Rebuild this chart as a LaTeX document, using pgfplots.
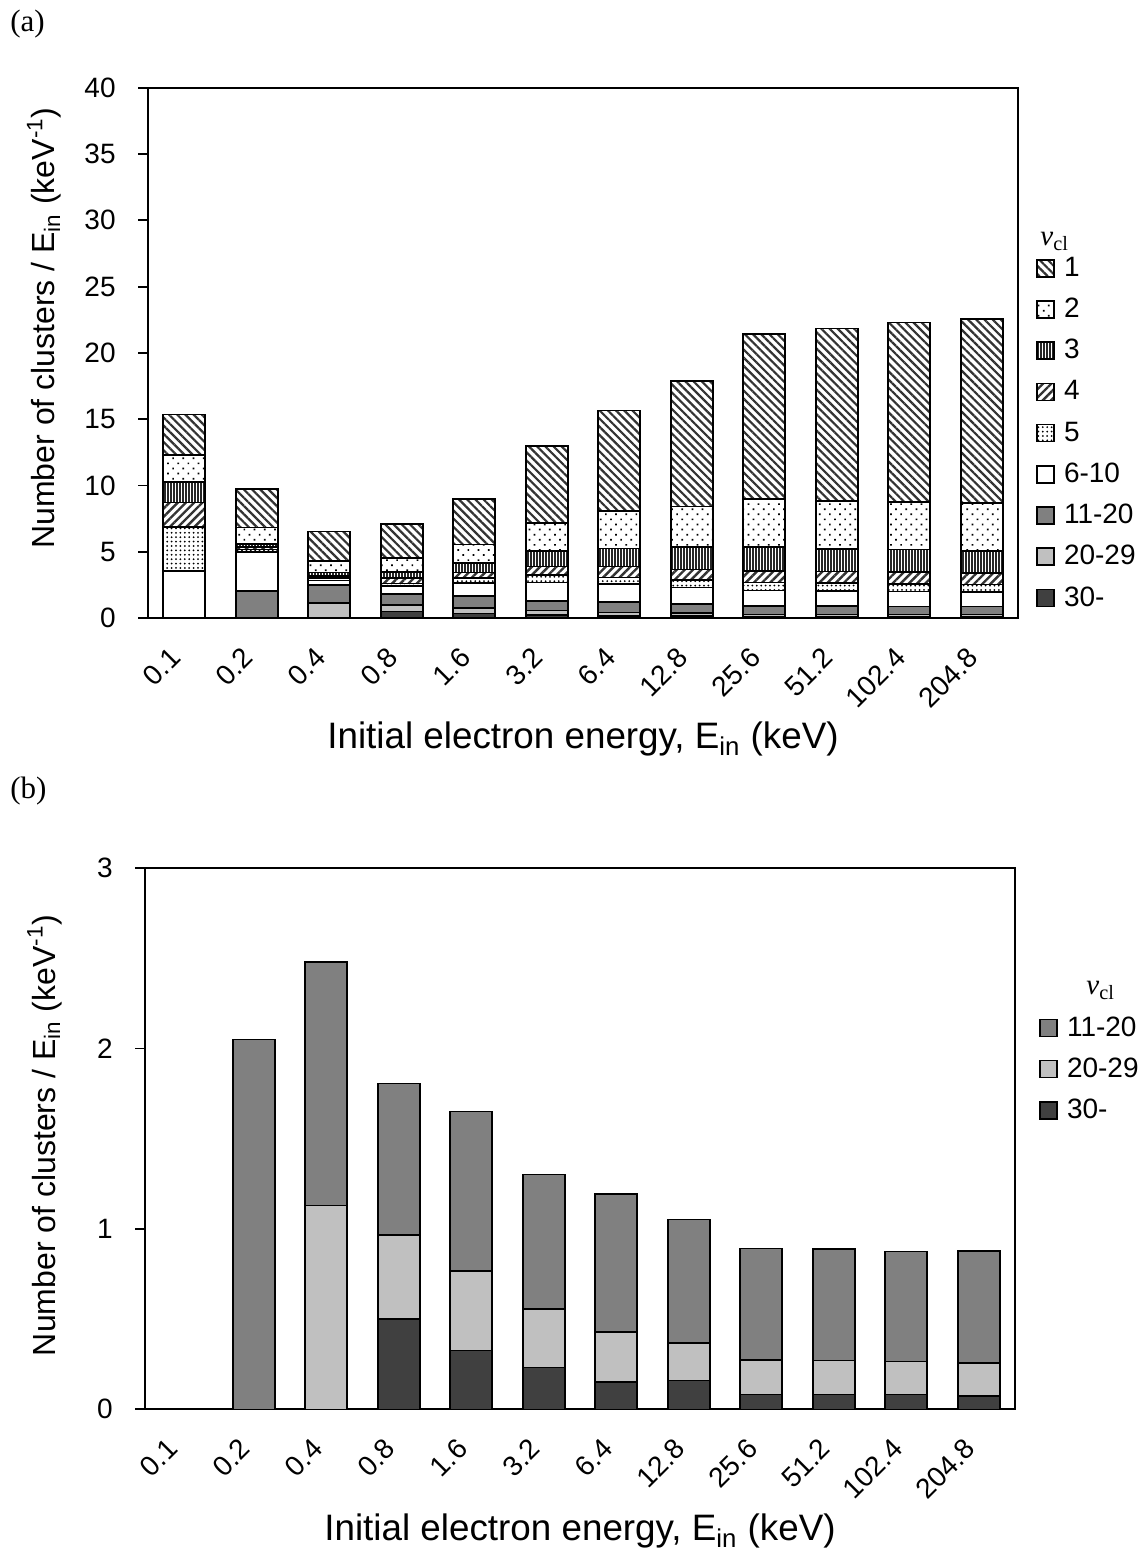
\documentclass[border=0pt]{standalone}
\usepackage{fontspec}
\setmainfont{Liberation Sans}
\newfontfamily\serif{Liberation Serif}
\usepackage{pgfplots}
\usepackage{pgfplotstable}
\pgfplotsset{compat=1.18}
\usetikzlibrary{patterns.meta,calc}

\definecolor{g11}{HTML}{808080}
\definecolor{g20}{HTML}{C0C0C0}
\definecolor{g30}{HTML}{404040}

\newcommand\ticksize{\fontsize{14}{16}\selectfont}

% clusters per keV, split by cluster size (stacked bottom to top: 30-, 20-29, 11-20, 6-10, 5, 4, 3, 2, 1)
\pgfplotstableread{
x  c30   c20   c11   c6   c5   c4   c3   c2   c1
0  0     0     0     3.55 3.32 1.83 1.54 2.04 3.07
1  0     0     2.05  2.91 0.20 0.20 0.22 1.24 2.89
2  0     1.13  1.35  0.36 0.18 0.15 0.25 0.86 2.24
3  0.500 0.466 0.840 0.61 0.20 0.38 0.47 1.08 2.54
4  0.325 0.440 0.886 1.00 0.35 0.43 0.73 1.38 3.45
5  0.231 0.324 0.746 1.37 0.58 0.62 1.19 2.11 5.79
6  0.151 0.276 0.767 1.35 0.50 0.83 1.36 2.85 7.57
7  0.159 0.207 0.686 1.24 0.58 0.80 1.67 3.06 9.50
8  0.081 0.191 0.619 1.17 0.63 0.86 1.79 3.62 12.47
9  0.081 0.189 0.617 1.17 0.58 0.86 1.71 3.64 13.00
10 0.081 0.185 0.608 1.12 0.58 0.88 1.71 3.59 13.55
11 0.074 0.184 0.618 1.08 0.58 0.88 1.66 3.60 13.87
}\clusters

\pgfplotsset{
  swatch/.style={legend image code/.code={\draw[##1] (0pt,-4.25pt) rectangle (8.5pt,4.25pt);}},
  seg/.style={draw=black, line width=0.8pt, swatch},
  v30/.style={seg, fill=g30},
  v20/.style={seg, fill=g20},
  v11/.style={seg, fill=g11},
  v6/.style={seg, fill=white},
  v5/.style={seg, pattern={Dots[distance=2.2pt, radius=0.5pt]}, pattern color=black},
  v4/.style={seg, pattern={Lines[angle=45, distance=2.9pt, line width=1.2pt]}, pattern color=black!80},
  v3/.style={seg, pattern={Lines[angle=90, distance=1.5pt, line width=0.6pt]}, pattern color=black!85},
  v2/.style={seg, pattern={Dots[distance=3.6pt, radius=0.6pt, angle=45]}, pattern color=black},
  v1/.style={seg, pattern={Lines[angle=-45, distance=2.9pt, line width=1.1pt]}, pattern color=black!80},
  panel/.style={
    scale only axis, width=435pt,
    ybar stacked, bar width=21pt,
    xmin=-0.5, xmax=11.5, ymin=0,
    enlarge x limits=false,
    xtick={0,...,11},
    xticklabels={0.1,0.2,0.4,0.8,1.6,3.2,6.4,12.8,25.6,51.2,102.4,204.8},
    axis line style={line width=0.9pt},
    ytick pos=left, tick align=outside, major tick length=5pt,
    every tick/.style={black, line width=0.9pt},
    xtick style={draw=none},
    tick label style={font=\ticksize},
    /pgf/number format/assume math mode=true,
    xticklabel style={xshift=-4.35pt, yshift=-12.25pt, rotate=45, anchor=east, inner sep=0pt},
    yticklabel style={anchor=east, inner sep=0pt, xshift=-11pt},
    xlabel={Initial electron energy, E\textsubscript{in} (keV)},
    ylabel={Number of clusters / E\textsubscript{in} (keV\textsuperscript{-1})},
    xlabel style={font=\fontsize{18.4}{20}\selectfont, at={(axis description cs:0.5,0)}, anchor=base, yshift=-65.5pt},
    ylabel style={font=\fontsize{16}{18}\selectfont, anchor=base},
    legend cell align=left, reverse legend,
    legend style={draw=none, fill=none, anchor=north west, inner sep=0pt,
      font=\ticksize, row sep=0pt,
      nodes={inner sep=0pt, minimum height=20.6pt},
      /tikz/every odd column/.style={column sep=4.5pt}},
  },
}

\begin{document}
\begin{tikzpicture}
\useasboundingbox (0,0) rectangle (571pt,779pt);

% (a) all cluster sizes
\begin{axis}[panel, name=A,
  at={(74pt,470pt)}, anchor=south west,
  height=265.1pt, ymax=40, ytick={0,5,...,40},
  ylabel style={at={(axis description cs:-0.1069,0.547)}},
  legend style={at={(1,1)}, xshift=9pt, yshift=-79.7pt},
]
\addplot[v30] table[x=x, y=c30] {\clusters}; \addlegendentry{30-}
\addplot[v20] table[x=x, y=c20] {\clusters}; \addlegendentry{20-29}
\addplot[v11] table[x=x, y=c11] {\clusters}; \addlegendentry{11-20}
\addplot[v6]  table[x=x, y=c6]  {\clusters}; \addlegendentry{6-10}
\addplot[v5]  table[x=x, y=c5]  {\clusters}; \addlegendentry{5}
\addplot[v4]  table[x=x, y=c4]  {\clusters}; \addlegendentry{4}
\addplot[v3]  table[x=x, y=c3]  {\clusters}; \addlegendentry{3}
\addplot[v2]  table[x=x, y=c2]  {\clusters}; \addlegendentry{2}
\addplot[v1]  table[x=x, y=c1]  {\clusters}; \addlegendentry{1}
\end{axis}

% (b) large clusters only
\begin{axis}[panel, name=B,
  at={(72.5pt,74.35pt)}, anchor=south west,
  height=270.65pt, ymax=3, ytick={0,1,2,3},
  ylabel style={at={(axis description cs:-0.1034,0.506)}},
  legend style={at={(1,1)}, xshift=12pt, yshift=-69.4pt},
]
\addplot[v30] table[x=x, y=c30] {\clusters}; \addlegendentry{30-}
\addplot[v20] table[x=x, y=c20] {\clusters}; \addlegendentry{20-29}
\addplot[v11] table[x=x, y=c11] {\clusters}; \addlegendentry{11-20}
\end{axis}

\node[anchor=base west, inner sep=0pt, font=\serif\fontsize{14.5}{16}\selectfont]
  at ($(A.north east)+(11pt,-79pt)$) {\itshape ν\upshape\textsubscript{cl}};
\node[anchor=base west, inner sep=0pt, font=\serif\fontsize{14.5}{16}\selectfont]
  at ($(B.north east)+(35.5pt,-63.5pt)$) {\itshape ν\upshape\textsubscript{cl}};

\node[anchor=north west, inner sep=0pt, font=\serif\fontsize{15.5}{17}\selectfont] at (5pt,774pt) {(a)};
\node[anchor=north west, inner sep=0pt, font=\serif\fontsize{15.5}{17}\selectfont] at (5pt,390.6pt) {(b)};
\end{tikzpicture}
\end{document}
